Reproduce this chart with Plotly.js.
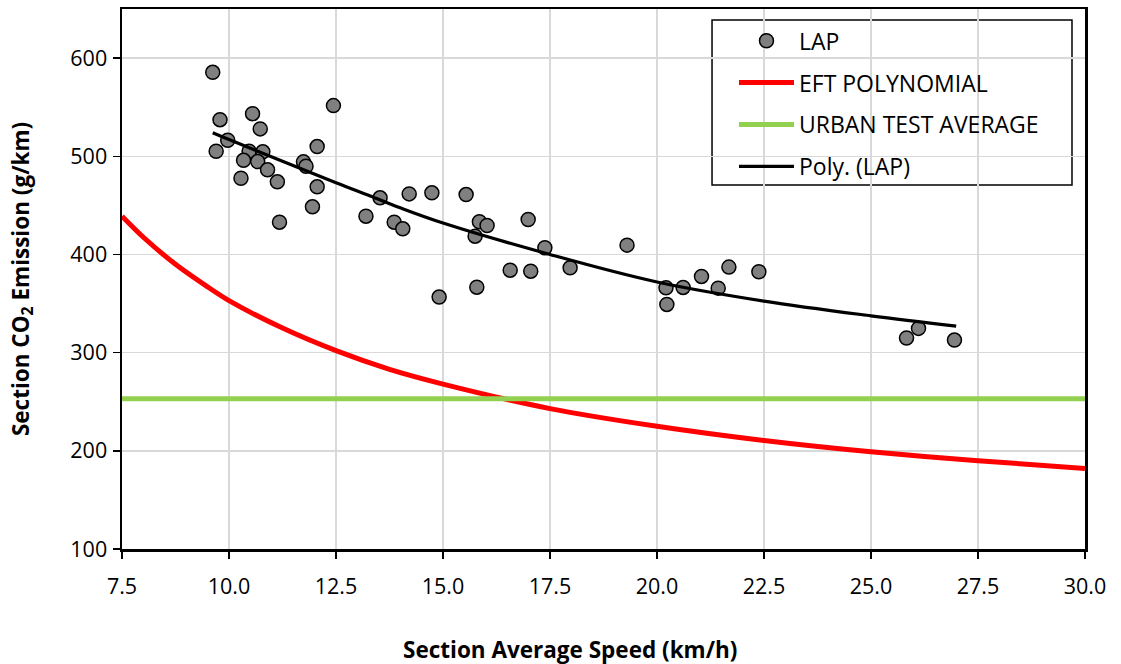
<!DOCTYPE html>
<html>
<head>
<meta charset="utf-8">
<script src="https://cdn.plot.ly/plotly-3.0.1.min.js"></script>
<style>html,body{margin:0;padding:0;background:#fff;}#chart{width:1121px;height:664px;}</style>
</head>
<body>
<div id="chart"></div>
<script>
// LAP measured sections
const lapSpeed = [9.62, 9.79, 9.70, 9.97, 10.55, 10.73, 10.47, 10.79, 10.34, 10.67, 10.90, 10.28, 11.13, 11.18, 11.74, 11.80, 12.06, 12.06, 11.95, 12.44,
  13.20, 13.53, 13.86, 14.06, 14.21, 14.74, 14.91, 15.54, 15.75, 15.85, 16.03, 15.79, 16.57, 16.99, 17.05, 17.38, 17.97, 19.30,
  20.21, 20.23, 20.61, 21.04, 21.43, 21.68, 22.38, 25.83, 26.11, 26.95];
const lapCO2 = [585.5, 537.3, 505.1, 516.3, 543.4, 527.9, 505.1, 504.5, 495.9, 494.6, 486.2, 477.6, 474.0, 432.9, 494.3, 489.8, 509.9, 468.9, 448.5, 551.6,
  439.0, 457.7, 432.9, 426.1, 461.7, 462.8, 356.6, 461.0, 418.6, 433.3, 429.5, 366.7, 384.0, 435.6, 383.0, 406.8, 386.5, 409.5,
  366.1, 349.1, 366.4, 377.6, 365.7, 387.1, 382.4, 314.9, 324.7, 312.8];

// EFT polynomial curve
const eftSpeed = [7.5, 8.0, 8.75, 9.5, 10.0, 11.25, 12.5, 13.75, 15.0, 17.5, 20.0, 22.5, 25.0, 27.5, 30.0];
const eftCO2 = [439, 417.5, 390, 367, 353, 325, 302, 283, 268, 243, 225, 210.5, 199, 190, 182];

// Urban test average
const urbanSpeed = [7.5, 30.0];
const urbanCO2 = [253, 253];

// Poly. (LAP) trend line
const trendSpeed = [9.62, 10.0, 12.5, 13.3, 14.0, 15.0, 17.5, 20.0, 22.5, 25.0, 26.99];
const trendCO2 = [524, 517, 473, 459.5, 447.5, 432, 400, 372, 352.5, 337.5, 327];

const xTicks = [7.5, 10, 12.5, 15, 17.5, 20, 22.5, 25, 27.5, 30];
const xTickText = ['7.5', '10.0', '12.5', '15.0', '17.5', '20.0', '22.5', '25.0', '27.5', '30.0'];
const yTicks = [100, 200, 300, 400, 500, 600];

const FONT = 'Open Sans, Liberation Sans, sans-serif';

const traces = [
  {x: eftSpeed, y: eftCO2, type: 'scatter', mode: 'lines', name: 'EFT POLYNOMIAL',
   line: {color: '#ff0000', width: 5, shape: 'spline', smoothing: 0.8}, legendrank: 2, legendgroup: 'b'},
  {x: urbanSpeed, y: urbanCO2, type: 'scatter', mode: 'lines', name: 'URBAN TEST AVERAGE',
   line: {color: '#92d050', width: 5}, legendrank: 3, legendgroup: 'c'},
  {x: lapSpeed, y: lapCO2, type: 'scatter', mode: 'markers', name: 'LAP',
   marker: {color: '#808080', size: 14, line: {color: '#000000', width: 1.5}}, legendrank: 1, legendgroup: 'a'},
  {x: trendSpeed, y: trendCO2, type: 'scatter', mode: 'lines', name: 'Poly. (LAP)',
   line: {color: '#000000', width: 3.2, shape: 'spline'}, legendrank: 4, legendgroup: 'd'}
];

const layout = {
  width: 1121, height: 664,
  margin: {l: 122, r: 36, t: 9, b: 115},
  paper_bgcolor: '#ffffff', plot_bgcolor: '#ffffff',
  font: {family: FONT, color: '#000000', size: 21},
  showlegend: true,
  legend: {
    x: 0.6355, y: 0.981, xanchor: 'left', yanchor: 'top',
    bgcolor: 'rgba(0,0,0,0)', borderwidth: 0,
    font: {family: FONT, size: 23, color: '#000000'},
    tracegroupgap: 9, itemwidth: 55, traceorder: 'grouped'
  },
  shapes: [
    {type: 'rect', xref: 'paper', yref: 'paper', x0: 0.6127, x1: 0.9865, y0: 0.674, y1: 0.9796,
     fillcolor: '#ffffff', line: {color: '#000000', width: 1.5}, layer: 'between'}
  ],
  annotations: [
    {text: '<b>Section Average Speed (km/h)</b>', xref: 'paper', yref: 'paper', x: 0.4652, y: -0.187,
     xanchor: 'center', yanchor: 'middle', showarrow: false,
     font: {family: FONT, size: 22.5, color: '#000000'}}
  ],
  xaxis: {
    range: [7.5, 30], tickmode: 'array', tickvals: xTicks, ticktext: xTickText,
    showgrid: true, gridcolor: '#d9d9d9', gridwidth: 1.5,
    showline: true, linecolor: '#000000', linewidth: 2.5, mirror: true,
    ticks: 'outside', ticklen: 7, tickwidth: 1.5, tickcolor: '#000000',
    ticklabelstandoff: 10,
    zeroline: false,
    tickfont: {family: FONT, size: 21.5, color: '#000000'}
  },
  yaxis: {
    range: [100, 650], tickmode: 'array', tickvals: yTicks,
    showgrid: true, gridcolor: '#d9d9d9', gridwidth: 1.5,
    showline: true, linecolor: '#000000', linewidth: 2.5, mirror: true,
    ticks: 'outside', ticklen: 7, tickwidth: 1.5, tickcolor: '#000000',
    ticklabelstandoff: 1,
    zeroline: false,
    tickfont: {family: FONT, size: 21.5, color: '#000000'},
    title: {text: 'Section CO<sub>2</sub> Emission (g/km)', font: {family: FONT, size: 22.5, color: '#000000', weight: 'bold'}, standoff: 35}
  }
};

Plotly.newPlot('chart', traces, layout, {displayModeBar: false, staticPlot: true});
</script>
</body>
</html>
